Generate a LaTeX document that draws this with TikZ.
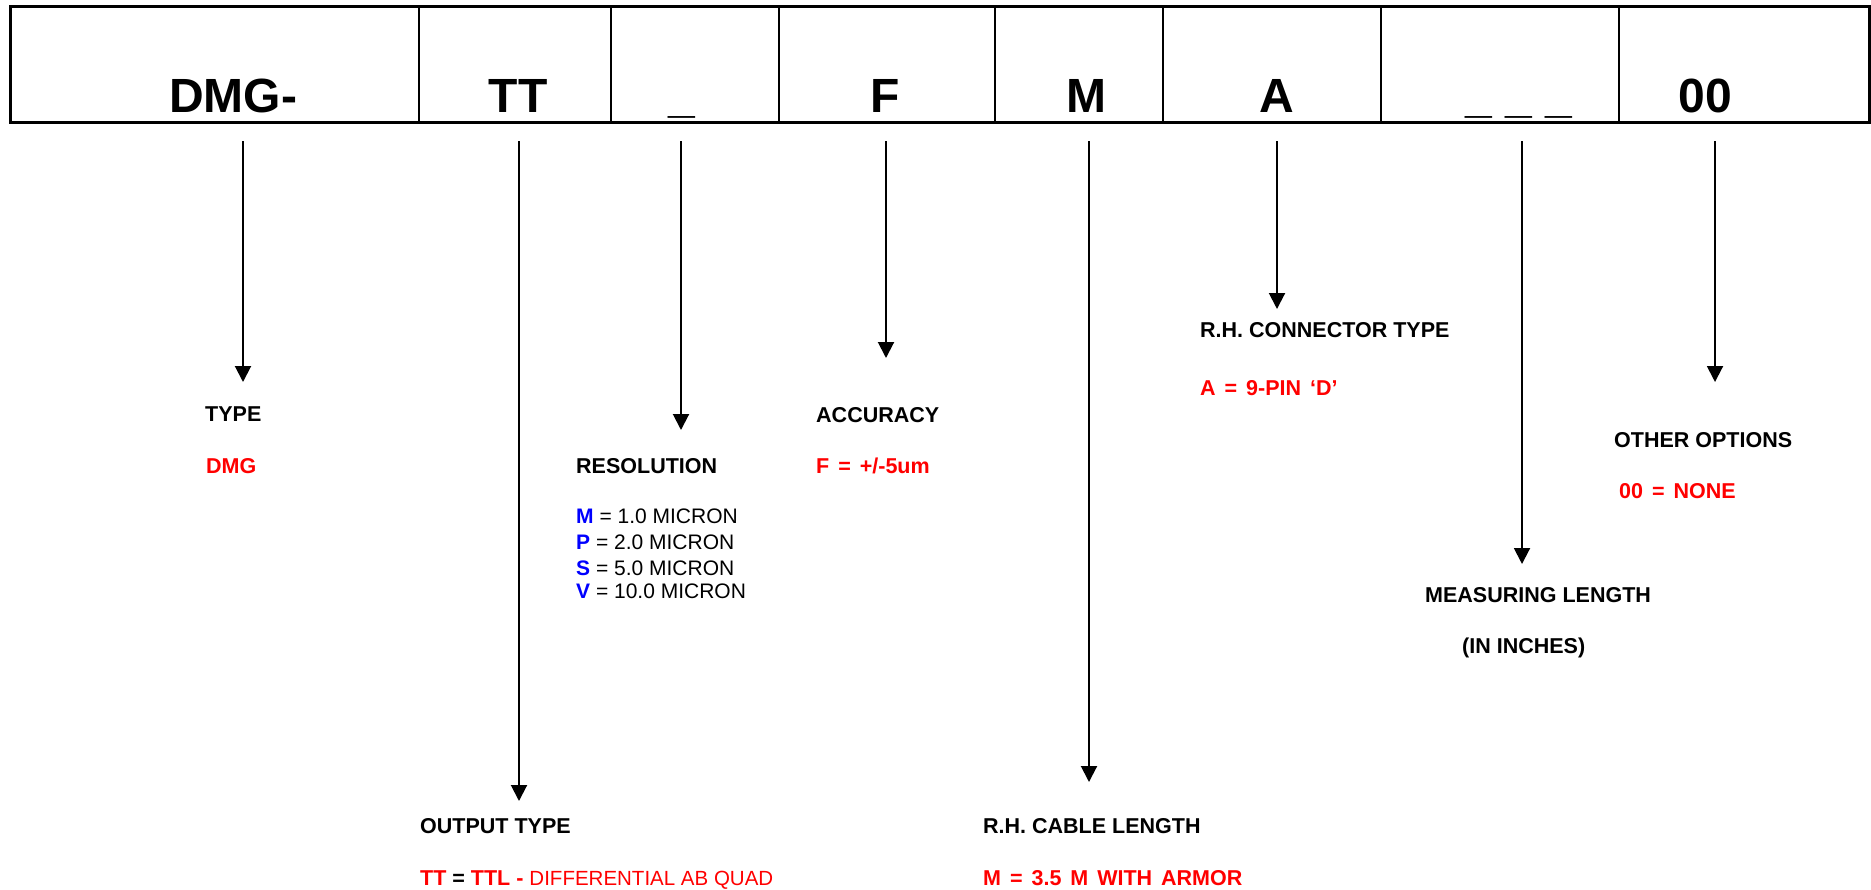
\documentclass[tikz,border=0pt]{standalone}
\usepackage{fontspec}
\setmainfont{Liberation Sans}
\newfontfamily\valfont[WordSpace=1.5]{Liberation Sans}
\usetikzlibrary{arrows.meta}

\begin{document}
\begin{tikzpicture}[x=1pt,y=-1pt,
    head/.style={anchor=base,inner sep=0pt,font=\fontsize{48}{48}\selectfont\bfseries},
    lbl/.style={anchor=base west,inner sep=0pt,font=\fontsize{21.5}{21.5}\selectfont\bfseries},
    val/.style={anchor=base west,inner sep=0pt,text=red,font=\valfont\fontsize{21.5}{21.5}\selectfont\bfseries},
    opt/.style={anchor=base west,inner sep=0pt,font=\fontsize{21}{21}\selectfont},
    arr/.style={draw,line width=2pt,-{Triangle[width=16pt,length=16pt]}}]
        \useasboundingbox (0,0) rectangle (1871,889);

        % code box
        \draw[line width=3pt] (10,6) rectangle (1869,122);
        \draw[line width=2pt] (419,6) -- (419,122);
        \draw[line width=2pt] (611,6) -- (611,122);
        \draw[line width=2pt] (779,6) -- (779,122);
        \draw[line width=2pt] (995,6) -- (995,122);
        \draw[line width=2pt] (1163,6) -- (1163,122);
        \draw[line width=2pt] (1381,6) -- (1381,122);
        \draw[line width=2pt] (1619,6) -- (1619,122);

        \node[head] (dmg) at (233,112) {DMG-};
        \node[head] (tt) at (518,112) {TT};
        \node[head] (res) at (682,112) {\_};
        \node[head] (f) at (885,112) {F};
        \node[head] (m) at (1086,112) {M};
        \node[head] (a) at (1277,112) {A};
        \node[head] (len) at (1519,112) {\_ \_ \_};
        \node[head] (oo) at (1705,112) {00};

        % labels
        \node[lbl] (type) at (205,421) {TYPE};
        \node[val] (typev) at (206,473) {DMG};

        \node[lbl] (outp) at (420,833) {OUTPUT TYPE};
        \node[anchor=base west,inner sep=0pt,text=red,font=\fontsize{20.5}{20.5}\selectfont] (outpv) at (420,885)
            {\fontsize{21.5}{21.5}\selectfont\bfseries TT \textcolor{black}{=} TTL - \mdseries\fontsize{20.5}{20.5}\selectfont DIFFERENTIAL AB QUAD};

        \node[lbl] (resl) at (576,473) {RESOLUTION};
        \node[opt] (r1) at (576,523) {\textcolor{blue}{\bfseries M} = 1.0 MICRON};
        \node[opt] (r2) at (576,549) {\textcolor{blue}{\bfseries P} = 2.0 MICRON};
        \node[opt] (r3) at (576,575) {\textcolor{blue}{\bfseries S} = 5.0 MICRON};
        \node[opt] (r4) at (576,598) {\textcolor{blue}{\bfseries V} = 10.0 MICRON};

        \node[lbl] (acc) at (816,422) {ACCURACY};
        \node[val] (accv) at (816,473) {F = +/-5um};

        \node[lbl] (cab) at (983,833) {R.H. CABLE LENGTH};
        \node[val] (cabv) at (983,885) {M = 3.5 M WITH ARMOR};

        \node[lbl] (con) at (1200,337) {R.H. CONNECTOR TYPE};
        \node[val] (conv) at (1200,395) {A = 9-PIN ‘D’};

        \node[lbl] (meas) at (1425,602) {MEASURING LENGTH};
        \node[lbl] (measu) at (1462,653) {(IN INCHES)};

        \node[lbl] (oth) at (1614,447) {OTHER OPTIONS};
        \node[val] (othv) at (1619,498) {00 = NONE};

        % arrows
        \coordinate (s1) at (243,141);  \coordinate (e1) at (243,382);
        \coordinate (s2) at (519,141);  \coordinate (e2) at (519,801);
        \coordinate (s3) at (681,141);  \coordinate (e3) at (681,430);
        \coordinate (s4) at (886,141);  \coordinate (e4) at (886,358);
        \coordinate (s5) at (1089,141); \coordinate (e5) at (1089,782);
        \coordinate (s6) at (1277,141); \coordinate (e6) at (1277,309);
        \coordinate (s7) at (1522,141); \coordinate (e7) at (1522,564);
        \coordinate (s8) at (1715,141); \coordinate (e8) at (1715,382);

        \path[arr] (s1) -- (e1);
        \path[arr] (s2) -- (e2);
        \path[arr] (s3) -- (e3);
        \path[arr] (s4) -- (e4);
        \path[arr] (s5) -- (e5);
        \path[arr] (s6) -- (e6);
        \path[arr] (s7) -- (e7);
        \path[arr] (s8) -- (e8);
    \end{tikzpicture}
\end{document}
